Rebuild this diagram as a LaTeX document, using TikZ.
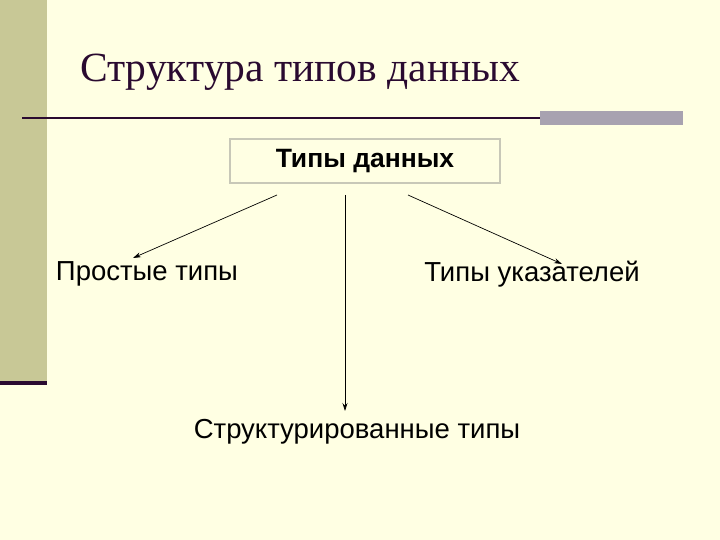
\documentclass[tikz,border=0pt]{standalone}
\usepackage{fontspec}
\setmainfont{Liberation Serif}
\setsansfont{Liberation Sans}
\usetikzlibrary{arrows.meta}
\definecolor{bg}{HTML}{FFFFE3}
\definecolor{bar}{HTML}{C8C896}
\definecolor{dk}{HTML}{2A0A30}
\definecolor{gb}{HTML}{A8A2B0}
\begin{document}
\begin{tikzpicture}[x=1pt,y=-1pt,
 lbl/.style={font=\sffamily\fontsize{27.5}{30}\selectfont,inner sep=0pt},
 arr/.style={-{Stealth[length=8pt,width=5pt]},line width=0.7pt}]
\fill[bg] (0,0) rectangle (720,540);
\useasboundingbox (0,0) rectangle (720,540);
\fill[bar] (0,0) rectangle (47,381);
\fill[dk] (0,381) rectangle (47,385);
\fill[gb] (540,111) rectangle (683,125);
\draw[dk,line width=1.6pt] (22,118) -- (540,118);
\node[anchor=base west,inner sep=0pt,font=\fontsize{41.5}{44}\selectfont,text=dk] (title) at (80,82) {Структура типов данных};
\node[draw={rgb,255:red,200;green,200;blue,184},line width=1.2pt,minimum width=270pt,minimum height=44pt,font=\sffamily\bfseries\fontsize{26.5}{30}\selectfont] (td) at (365,161) {Типы данных};
\node[lbl] (pt) at (147,274) {Простые типы};
\node[lbl] (ut) at (532,274) {Типы указателей};
\node[lbl] (st) at (357,432) {Структурированные типы};
\coordinate (a1) at (277,195); \coordinate (a2) at (133,258);
\coordinate (b1) at (345,195); \coordinate (b2) at (345,411);
\coordinate (c1) at (408,195); \coordinate (c2) at (562,264);
\draw[arr] (a1) -- (a2);
\draw[arr] (b1) -- (b2);
\draw[arr] (c1) -- (c2);
\end{tikzpicture}
\end{document}
